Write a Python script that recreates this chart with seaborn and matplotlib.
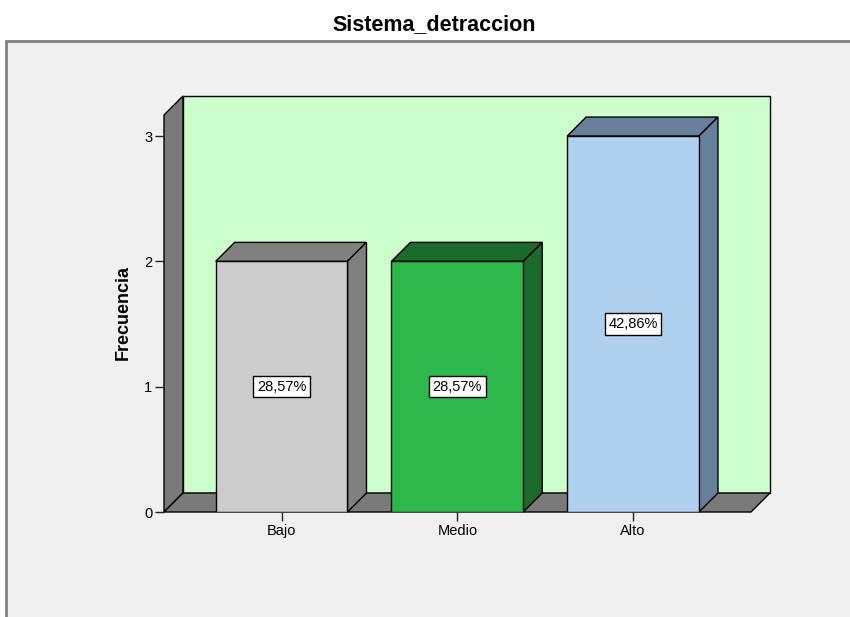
import numpy as np
import pandas as pd
import seaborn as sns
import matplotlib.pyplot as plt
from matplotlib.patches import Polygon, Rectangle

# data
categorias = ['Bajo', 'Medio', 'Alto']
frecuencia = [2, 2, 3]
color_frente = ['#cccccc', '#2eb84b', '#afd0ee']
color_lado = ['#808080', '#1c6a2b', '#68809a']

plt.rcParams['font.family'] = ['Liberation Sans', 'DejaVu Sans']

W, H = 850, 617
fig = plt.figure(figsize=(W / 100, H / 100), dpi=100, facecolor='white')

# SPSS style chart frame (runs off the right/bottom edge)
fig.patches.append(Rectangle((6 / W, -0.1), 1.2, 1 - 41 / H + 0.1, transform=fig.transFigure,
                             facecolor='#f0f0f0', edgecolor='#808080', lw=2, zorder=-10))

ax = fig.add_axes([164 / W, 1 - 512 / H, 587 / W, 397 / H])
ax.set_facecolor('none')

df = pd.DataFrame({'cat': categorias, 'n': frecuencia})
sns.barplot(data=df, x='cat', y='n', hue='cat', palette=color_frente, order=categorias,
            hue_order=categorias, width=0.75, saturation=1, edgecolor='black',
            linewidth=1, legend=False, ax=ax, zorder=3)

x0, x1 = -0.669, 2.671
y0, y1 = 0, 3.168
ax.set_xlim(x0, x1)
ax.set_ylim(y0, y1)

# depth of the fake 3d effect, ~19px
dx = 19 * (x1 - x0) / 587
dy = 19 * (y1 - y0) / 397

# back wall, left wall, floor
ax.add_patch(Rectangle((x0 + dx, dy), x1 - x0, y1 - y0, facecolor='#ccffcc', edgecolor='black',
                       lw=1, clip_on=False, zorder=0.5))
ax.add_patch(Polygon([(x0, 0), (x0 + dx, dy), (x0 + dx, y1 + dy), (x0, y1)], facecolor='#7a7a7a',
                     edgecolor='black', lw=1, clip_on=False, zorder=1))
ax.add_patch(Polygon([(x0, 0), (x1, 0), (x1 + dx, dy), (x0 + dx, dy)], facecolor='#7a7a7a',
                     edgecolor='black', lw=1, clip_on=False, zorder=1))

total = sum(frecuencia)
for p in list(ax.patches):
    if p.get_zorder() != 3:
        continue
    i = int(round(p.get_x() + p.get_width() / 2))
    bx, bw, bh = p.get_x(), p.get_width(), p.get_height()
    side = color_lado[i]
    ax.add_patch(Polygon([(bx, bh), (bx + dx, bh + dy), (bx + bw + dx, bh + dy), (bx + bw, bh)],
                         facecolor=side, edgecolor='black', lw=1, clip_on=False, zorder=2.9))
    ax.add_patch(Polygon([(bx + bw, 0), (bx + bw + dx, dy), (bx + bw + dx, bh + dy), (bx + bw, bh)],
                         facecolor=side, edgecolor='black', lw=1, clip_on=False, zorder=2.9))
    pct = f"{100 * frecuencia[i] / total:.2f}%".replace('.', ',')
    ax.text(bx + bw / 2, bh / 2, pct, ha='center', va='center', fontsize=10.5, zorder=5,
            bbox=dict(boxstyle='square,pad=0.25', facecolor='white', edgecolor='black', lw=1))

for s in ax.spines.values():
    s.set_visible(False)
ax.set_yticks([0, 1, 2, 3])
ax.tick_params(axis='both', length=6.5, width=1, color='#222222', labelsize=10.5, pad=2)
ax.set_xlabel('')
ax.set_ylabel('')

fig.text(434 / W, 1 - 25 / H, 'Sistema_detraccion', ha='center', va='center',
         fontsize=15.5, fontweight='bold')
fig.text(123 / W, 1 - 313 / H, 'Frecuencia', ha='center', va='center', rotation=90,
         fontsize=13, fontweight='bold')

fig.savefig('out.png', dpi=100)
